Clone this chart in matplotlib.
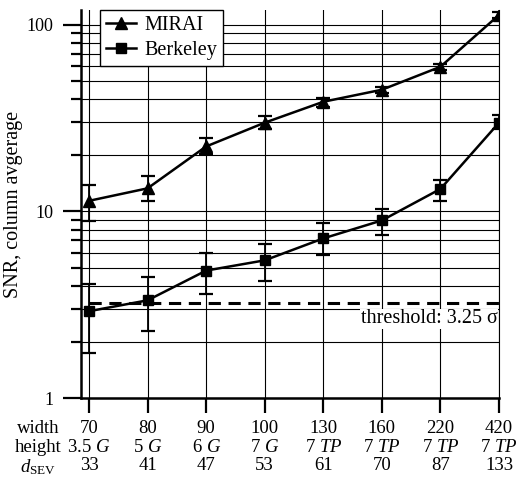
import matplotlib
matplotlib.use("Agg")
import matplotlib.pyplot as plt
import numpy as np
from matplotlib.ticker import LogLocator, NullFormatter, FuncFormatter
from matplotlib.lines import Line2D

plt.rcParams['font.family'] = ['Liberation Serif', 'DejaVu Serif']
plt.rcParams['mathtext.fontset'] = 'custom'
plt.rcParams['mathtext.rm'] = 'Liberation Serif'
plt.rcParams['mathtext.it'] = 'Liberation Serif:italic'
plt.rcParams['font.size'] = 13

# column settings along the x axis
widths = ['70', '80', '90', '100', '130', '160', '220', '420']
heights = ['3.5 $G$', '5 $G$', '6 $G$', '7 $G$', '7 $TP$', '7 $TP$', '7 $TP$', '7 $TP$']
d_sev = ['33', '41', '47', '53', '61', '70', '87', '133']

# SNR values with lower / upper error bar ends
mirai = [11.4, 13.3, 22.3, 29.9, 38.7, 44.9, 59.6, 113]
mirai_lo = [8.9, 11.4, 20.4, 27.5, 36.4, 43.0, 57.0, 109]
mirai_hi = [13.9, 15.4, 24.6, 32.3, 40.3, 46.6, 62.0, 117]

berkeley = [2.92, 3.34, 4.82, 5.47, 7.17, 8.95, 13.2, 29.9]
berkeley_lo = [1.74, 2.29, 3.63, 4.22, 5.84, 7.5, 11.4, 27.7]
berkeley_hi = [4.08, 4.43, 6.02, 6.72, 8.66, 10.3, 14.8, 32.7]

threshold = 3.25

x = np.arange(len(widths))

fig = plt.figure(figsize=(5.32, 4.79), dpi=100)
ax = fig.add_axes([0.153, 0.169, 0.785, 0.81])

ax.set_yscale('log')
ax.set_ylim(1, 120)
ax.set_xlim(-0.13, 7)

# grid on every log tick and every column
ax.yaxis.set_major_locator(LogLocator(base=10))
ax.yaxis.set_major_formatter(FuncFormatter(lambda v, p: f'{v:g}'))
ax.yaxis.set_minor_locator(LogLocator(base=10, subs=np.arange(2, 10)))
ax.yaxis.set_minor_formatter(NullFormatter())
ax.grid(True, which='both', axis='y', color='black', linewidth=0.8)
ax.grid(True, which='major', axis='x', color='black', linewidth=0.8)
ax.set_axisbelow(True)

def err(v, lo, hi):
    v = np.array(v)
    return [v - np.array(lo), np.array(hi) - v]

ax.errorbar(x, mirai, yerr=err(mirai, mirai_lo, mirai_hi), color='black',
            marker='^', markersize=8, linewidth=1.8, elinewidth=1.3,
            capsize=5, capthick=1.6, zorder=3)
ax.errorbar(x, berkeley, yerr=err(berkeley, berkeley_lo, berkeley_hi), color='black',
            marker='s', markersize=7, linewidth=1.8, elinewidth=1.3,
            capsize=5, capthick=1.6, zorder=3)

ax.plot([x[0], x[-1]], [threshold, threshold], color='black', linewidth=2.2,
        linestyle=(0, (4, 2.5)), zorder=2)
ax.annotate('threshold: 3.25 σ', xy=(x[-1], threshold), xytext=(-1, -5),
            textcoords='offset points', ha='right', va='top', fontsize=14.5,
            bbox=dict(facecolor='white', edgecolor='none', pad=0.5), zorder=2.5)

ax.set_xticks(x)
ax.set_xticklabels([f'{w}\n{h}\n{d}' for w, h, d in zip(widths, heights, d_sev)],
                   linespacing=1.12, fontsize=13.5)
ax.tick_params(axis='x', direction='out', length=11, width=1.6, pad=5)
ax.tick_params(axis='y', which='major', direction='out', length=13, width=1.6, pad=7)
ax.tick_params(axis='y', which='minor', direction='out', length=7, width=1.6)

ax.annotate('width\nheight\n$d_{\\mathrm{SEV}}$', xy=(0, 0), xycoords='axes fraction',
            xytext=(-31, -16), textcoords='offset points', ha='center', va='top',
            linespacing=1.12, fontsize=13.5, annotation_clip=False)

ax.set_ylabel('SNR, column avgerage', labelpad=3, fontsize=14.5)

ax.spines['top'].set_visible(False)
ax.spines['right'].set_linewidth(0.8)
ax.spines['left'].set_linewidth(1.8)
ax.spines['bottom'].set_linewidth(1.8)

handles = [Line2D([], [], color='black', marker='^', markersize=8, linewidth=1.8),
           Line2D([], [], color='black', marker='s', markersize=7, linewidth=1.8)]
leg = ax.legend(handles, ['MIRAI', 'Berkeley'], loc='upper left',
                bbox_to_anchor=(0.045, 1.0), fancybox=False, fontsize=14.5,
                framealpha=1, edgecolor='black', borderpad=0.3, handlelength=1.5,
                handletextpad=0.4, labelspacing=0.3, borderaxespad=0.0)
leg.get_frame().set_linewidth(1.0)

fig.savefig('out.png', dpi=100)
